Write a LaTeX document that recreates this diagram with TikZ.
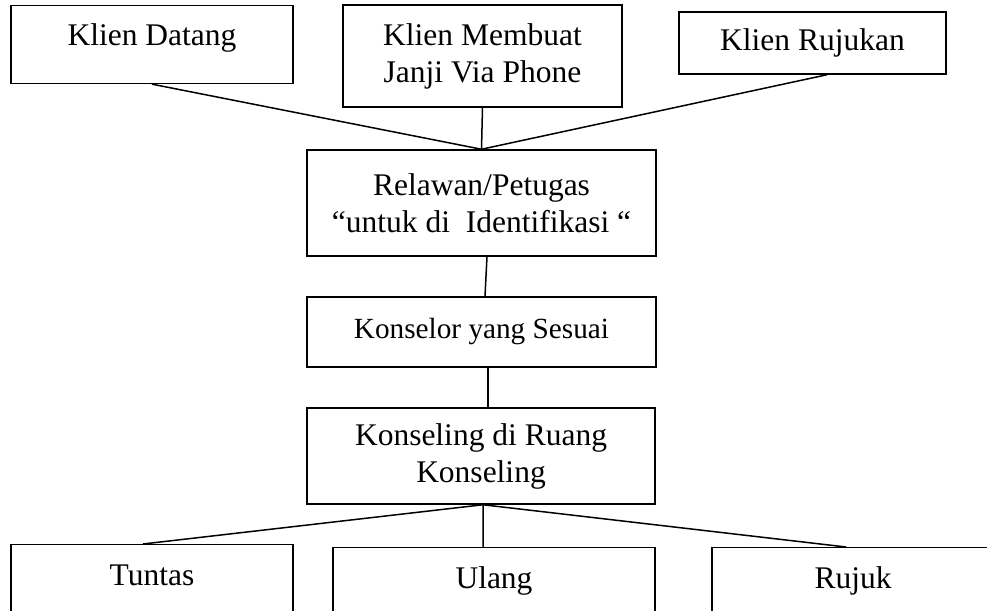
\documentclass[tikz,border=0pt]{standalone}
\usepackage{fontspec}
\setmainfont{Liberation Serif}

\begin{document}
\begin{tikzpicture}[
    x=0.4pt, y=-0.4pt,
    flowbox/.style={draw, line width=0.6pt, align=center, font=\fontsize{12.6}{14.8}\selectfont},
    bottombox/.style={flowbox, anchor=north, text height=12.8pt, text depth=20pt},
    link/.style={line width=0.6pt}
]
    \clip (0,0) rectangle (987,611);

    % Top row: how the client arrives
    \node[flowbox, anchor=north, text height=12.6pt, text depth=11.8pt, minimum width=112.8pt] (datang) at (152,5) {Klien Datang};
    \node[flowbox, minimum width=111.6pt, minimum height=40.8pt] (janji) at (482.5,56) {Klien Membuat\\Janji Via Phone};
    \node[flowbox, minimum width=106.8pt, minimum height=24.8pt] (rujukan) at (812.5,43) {Klien Rujukan};

    % Middle column
    \node[flowbox, minimum width=139.6pt, minimum height=42.4pt] (relawan) at (481.5,203) {Relawan/Petugas\\“untuk di~~Identifikasi~“};
    \node[flowbox, minimum width=139.6pt, minimum height=28pt, font=\fontsize{11.7}{14}\selectfont] (konselor) at (481.5,332) {Konselor yang Sesuai};
    \node[flowbox, minimum width=139.2pt, minimum height=38.4pt] (konseling) at (481,456) {Konseling di Ruang\\Konseling};

    % Bottom row: outcome
    \node[bottombox, minimum width=112.8pt] (tuntas) at (152,544) {Tuntas};
    \node[bottombox, minimum width=128.8pt] (ulang) at (494,547) {Ulang};
    \node[bottombox, minimum width=112.8pt] (rujuk) at (853,547) {Rujuk};

    % Connectors
    \draw[link] (datang.south) -- (relawan.north);
    \draw[link] (janji.south) -- (relawan.north);
    \draw[link] ([xshift=5.8pt]rujukan.south) -- (relawan.north);
    \draw[link] ([xshift=2.2pt]relawan.south) -- ([xshift=1.4pt]konselor.north);
    \draw[link] ([xshift=2.6pt]konselor.south) -- ([xshift=2.8pt]konseling.north);
    \draw[link] ([xshift=0.8pt]konseling.south) -- ([xshift=-3.6pt]tuntas.north);
    \draw[link] ([xshift=0.8pt]konseling.south) -- ([xshift=-4.4pt]ulang.north);
    \draw[link] ([xshift=0.8pt]konseling.south) -- ([xshift=-2.8pt]rujuk.north);
\end{tikzpicture}
\end{document}
